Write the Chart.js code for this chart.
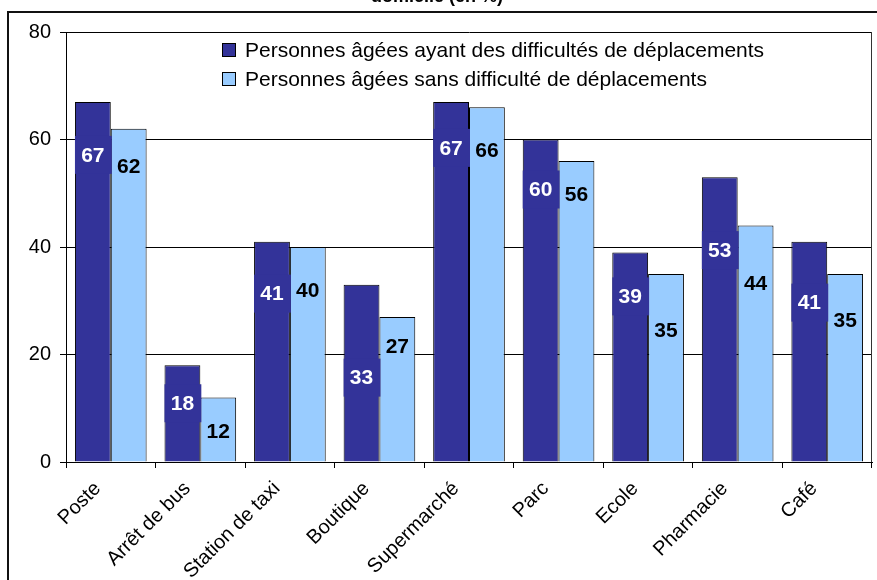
<!DOCTYPE html>
<html lang="fr">

<head>
    <meta charset="UTF-8">
    <script src="https://cdn.jsdelivr.net/npm/chart.js"></script>
    <title>Fréquentation des lieux</title>
    <style>
        body { margin: 0; background: #fff; }
        #grafico { display: block; }
    </style>
</head>

<body>
    <canvas id="grafico" width="877" height="580"></canvas>
</body>

</html>

<script>
    var lieux = ['Poste', 'Arrêt de bus', 'Station de taxi', 'Boutique', 'Supermarché', 'Parc', 'Ecole', 'Pharmacie', 'Café']
    var avecDifficultes = [67, 18, 41, 33, 67, 60, 39, 53, 41]
    var sansDifficulte = [62, 12, 40, 27, 66, 56, 35, 44, 35]
    var yTicks = [0, 20, 40, 60, 80]

    // how far below the top of each bar its value label sits (px)
    var decalageAvec = [53, 38, 52, 93, 46, 50, 44, 73, 61]
    var decalageSans = [37, 34, 43, 29, 43, 33, 56, 58, 46]

    var police = '"Liberation Sans", Arial, sans-serif'

    var cadre = {
        id: 'cadre',
        beforeDraw: function (chart) {
            var ctx = chart.ctx
            ctx.save()
            ctx.fillStyle = '#fff'
            ctx.fillRect(0, 0, chart.width, chart.height)
            // bottom of the cut-off title
            ctx.fillStyle = '#000'
            ctx.font = 'bold 18px ' + police
            ctx.textAlign = 'center'
            ctx.textBaseline = 'alphabetic'
            ctx.fillText('domicile (en %)', 437, 2)
            // outer frame
            ctx.strokeStyle = '#111'
            ctx.lineWidth = 2
            ctx.beginPath()
            ctx.moveTo(8, chart.height)
            ctx.lineTo(8, 12)
            ctx.lineTo(chart.width, 12)
            ctx.stroke()
            ctx.restore()
        },
        afterDraw: function (chart) {
            var ctx = chart.ctx
            var a = chart.chartArea
            ctx.save()
            ctx.strokeStyle = '#333'
            ctx.lineWidth = 1
            ctx.beginPath()
            ctx.moveTo(a.right - 0.5, a.top)
            ctx.lineTo(a.right - 0.5, a.bottom)
            ctx.stroke()

            // legend inside the plot
            var noms = chart.data.datasets
            ctx.font = '21px ' + police
            ctx.textAlign = 'left'
            ctx.textBaseline = 'middle'
            for (var i = 0; i < noms.length; i++) {
                var y = 50 + i * 29
                ctx.fillStyle = noms[i].backgroundColor
                ctx.fillRect(222, y - 7, 13, 13)
                ctx.strokeStyle = '#000'
                ctx.strokeRect(222.5, y - 6.5, 13, 13)
                ctx.fillStyle = '#000'
                ctx.fillText(noms[i].label, 245, y + 1)
            }
            ctx.restore()
        },
        afterDatasetsDraw: function (chart) {
            var ctx = chart.ctx
            var decalages = [decalageAvec, decalageSans]
            ctx.save()
            ctx.font = 'bold 21px ' + police
            ctx.textAlign = 'center'
            ctx.textBaseline = 'middle'
            chart.data.datasets.forEach(function (ds, d) {
                var meta = chart.getDatasetMeta(d)
                meta.data.forEach(function (barre, i) {
                    var y = barre.y + decalages[d][i]
                    if (d == 0) {
                        ctx.fillStyle = ds.backgroundColor
                        ctx.fillRect(barre.x - barre.width / 2, y - 19, barre.width + 1, 38)
                        ctx.fillStyle = '#fff'
                    } else {
                        ctx.fillStyle = '#000'
                    }
                    ctx.fillText(ds.data[i], barre.x, y + 1)
                })
            })
            ctx.restore()
        }
    }

    var grafico = new Chart(document.getElementById('grafico').getContext('2d'), {
        type: 'bar',
        data: {
            labels: lieux,
            datasets: [{
                label: 'Personnes âgées ayant des difficultés de déplacements',
                data: avecDifficultes,
                backgroundColor: '#333399',
                borderColor: '#000',
                borderWidth: 1
            },
            {
                label: 'Personnes âgées sans difficulté de déplacements',
                data: sansDifficulte,
                backgroundColor: '#99ccff',
                borderColor: '#000',
                borderWidth: 1
            }]
        },
        options: {
            responsive: false,
            animation: false,
            categoryPercentage: 0.8,
            barPercentage: 1.0,
            layout: {
                padding: { left: 0, top: 32, right: 5, bottom: 0 }
            },
            plugins: {
                legend: { display: false },
                tooltip: { enabled: false }
            },
            scales: {
                y: {
                    min: 0,
                    max: 80,
                    afterBuildTicks: function (scale) {
                        scale.ticks = yTicks.map(function (v) { return { value: v } })
                    },
                    afterFit: function (scale) {
                        scale.width = 66
                    },
                    ticks: {
                        color: '#000',
                        padding: 9,
                        font: { family: police, size: 20 }
                    },
                    grid: {
                        color: '#000',
                        tickLength: 6
                    },
                    border: { color: '#000' }
                },
                x: {
                    afterFit: function (scale) {
                        scale.height = 118
                    },
                    ticks: {
                        color: '#000',
                        maxRotation: 45,
                        minRotation: 45,
                        padding: 9,
                        labelOffset: -13,
                        font: { family: police, size: 20 }
                    },
                    grid: {
                        drawOnChartArea: false,
                        color: '#000',
                        tickLength: 6
                    },
                    border: { color: '#000' }
                }
            }
        },
        plugins: [cadre]
    });
</script>
